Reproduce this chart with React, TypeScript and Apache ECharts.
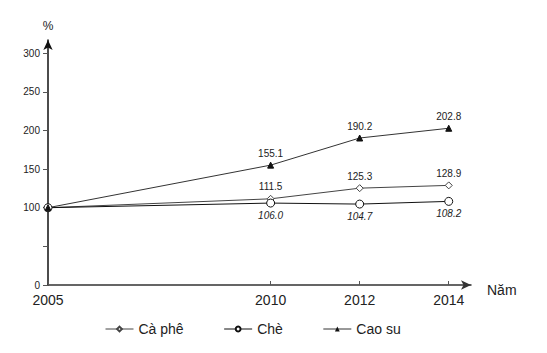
import React, { useEffect, useRef } from "react";
import * as echarts from "echarts";

const years = [2005, 2010, 2012, 2014];
const caPhe = [100, 111.5, 125.3, 128.9];
const che = [100, 106.0, 104.7, 108.2];
const caoSu = [100, 155.1, 190.2, 202.8];
const yLabelValues = [0, 100, 150, 200, 250, 300];
const yTickValues = [0, 50, 100, 150, 200, 250, 300];

const FONT = "Liberation Sans, Arial, sans-serif";

function pairs(vals: number[]) {
  return years.map((y, i) => [y, vals[i]]);
}

export default function App() {
  const ref = useRef<HTMLDivElement>(null);
  useEffect(() => {
    const chart = echarts.init(ref.current!, null, { renderer: "svg" });
    const labelFor = (pos: string, italic: boolean) => ({
      show: true,
      position: pos,
      distance: 3,
      fontSize: 10,
      fontFamily: FONT,
      fontStyle: italic ? "italic" : "normal",
      color: "#222",
      formatter: (p: any) => (p.value[0] === 2005 ? "" : p.value[1].toFixed(1)),
    });
    chart.setOption({
      animation: false,
      textStyle: { fontFamily: FONT },
      grid: { left: 40, right: 68, top: 32, bottom: 60, containLabel: false },
      legend: {
        bottom: 4,
        left: 92,
        itemWidth: 28,
        itemHeight: 6,
        itemGap: 40,
        lineStyle: { width: 1 },
        textStyle: { fontSize: 14, color: "#222", fontFamily: FONT },
        data: ["Cà phê", "Chè", "Cao su"],
      },
      xAxis: {
        type: "value",
        min: 2005,
        max: 2014.5,
        name: "Năm",
        nameLocation: "end",
        nameGap: 16,
        nameTextStyle: { fontSize: 14, color: "#222", verticalAlign: "top", padding: [-2, 0, 0, 0] },
        axisLine: { lineStyle: { color: "#333", width: 1.5 }, symbol: ["none", "arrow"], symbolSize: [7, 10] },
        axisTick: { show: true, inside: true, length: 4, customValues: years, lineStyle: { color: "#555" } },
        axisLabel: { customValues: years, fontSize: 14, color: "#222", margin: 8, formatter: (v: number) => String(v) },
        splitLine: { show: false },
      },
      yAxis: {
        type: "value",
        min: 0,
        max: 317,
        name: "%",
        nameLocation: "end",
        nameGap: 8,
        nameTextStyle: { fontSize: 12, color: "#222", align: "center" },
        axisLine: { show: true, lineStyle: { color: "#111", width: 1.5 }, symbol: ["none", "arrow"], symbolSize: [7, 10] },
        axisTick: { show: true, length: 5, customValues: yTickValues, lineStyle: { color: "#555" } },
        axisLabel: { customValues: yLabelValues, fontSize: 10, color: "#222", margin: 8 },
        splitLine: { show: false },
      },
      series: [
        {
          name: "Cà phê",
          type: "line",
          data: pairs(caPhe),
          symbol: "diamond",
          symbolSize: 7,
          lineStyle: { color: "#444", width: 1 },
          itemStyle: { color: "#fff", borderColor: "#444", borderWidth: 1 },
          label: labelFor("top", false),
        },
        {
          name: "Chè",
          type: "line",
          data: pairs(che),
          symbol: "circle",
          symbolSize: 8,
          lineStyle: { color: "#111", width: 1 },
          itemStyle: { color: "#fff", borderColor: "#111", borderWidth: 1 },
          label: labelFor("bottom", true),
        },
        {
          name: "Cao su",
          type: "line",
          data: pairs(caoSu),
          symbol: "triangle",
          symbolSize: 6,
          lineStyle: { color: "#333", width: 1 },
          itemStyle: { color: "#111", borderColor: "#111" },
          label: labelFor("top", false),
        },
      ],
    });
    return () => chart.dispose();
  }, []);
  return <div ref={ref} style={{ width: 531, height: 337 }} />;
}
